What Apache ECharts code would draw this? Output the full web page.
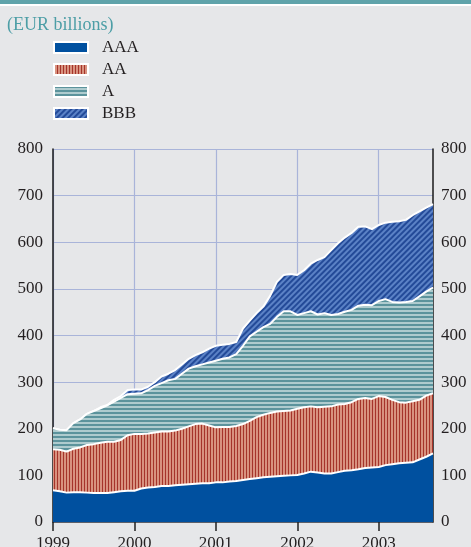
<!DOCTYPE html>
<html>
<head>
<meta charset="utf-8">
<script src="https://cdn.jsdelivr.net/npm/echarts@6/dist/echarts.min.js"></script>
<style>
html,body{margin:0;padding:0;background:#e6e7e9;}
#chart{width:471px;height:547px;}
</style>
</head>
<body>
<div id="chart"></div>
<script>
// ---- data (EUR billions), monthly Jan 1999 - Sep 2003 ----
var years = ['1999', '2000', '2001', '2002', '2003'];
var monthsPerYear = ['01','02','03','04','05','06','07','08','09','10','11','12'];
var lastMonthIndex = 9; // data ends September 2003
var seriesNames = ['AAA', 'AA', 'A', 'BBB'];
var yTicks = [0, 100, 200, 300, 400, 500, 600, 700, 800];

var aaa = [68,66,63,64,64,63,62,62,62,64, 66,67,67,72,74,75,77,77,79,80,
           81,82,83,83,85,85,87,88,90,92, 94,96,97,98,99,100,101,104,108,106,
           104,104,107,110,111,113,116,117,118,122, 124,126,127,128,134,140,147];
var aa  = [88,89,88,93,96,102,105,108,110,108, 110,119,122,117,116,117,117,117,117,120,
           124,128,128,124,118,119,117,118,120,125, 131,134,137,139,139,139,142,142,140,140,
           143,144,145,143,146,151,150,147,152,146, 138,131,129,131,128,131,129];
var a   = [45,43,46,55,60,67,71,74,78,86, 90,88,86,87,93,100,104,110,111,118,
           124,124,127,135,143,146,149,154,168,181, 183,188,191,203,214,213,201,202,204,199,
           201,196,194,198,198,200,200,201,204,210, 210,214,216,215,222,223,227];
var bbb = [0,0,0,0,0,0,0,2,1,4, 4,9,9,8,7,8,14,14,19,20,
           21,24,26,30,32,30,29,26,37,34, 40,44,60,75,78,80,86,92,102,117,
           120,139,152,159,165,169,168,163,163,164, 172,174,176,184,182,180,179];

var categories = [];
years.forEach(function (y, yi) {
  monthsPerYear.forEach(function (m, mi) {
    if (yi < years.length - 1 || mi < lastMonthIndex) categories.push(y + '-' + m);
  });
});

function isYearStart(index, value) {
  return categories[index].slice(5) === '01';
}

var serif = 'Liberation Serif';
var textColor = '#231f20';
var gridColor = '#a9b4d9';

var chart = echarts.init(document.getElementById('chart'), null, {renderer: 'canvas'});

function mk(name, data, color, decal, z) {
  return {
    name: name,
    type: 'line',
    stack: 'total',
    data: data,
    z: z,
    showSymbol: false,
    symbol: 'none',
    smooth: false,
    color: color,
    lineStyle: {color: '#ffffff', width: 2},
    itemStyle: {color: color, decal: decal},
    areaStyle: {color: color, opacity: 1},
    emphasis: {disabled: true},
    animation: false
  };
}

var option = {
  animation: false,
  backgroundColor: '#e6e7e9',
  graphic: [
    {type: 'rect', left: 0, top: 0, shape: {x: 0, y: 0, width: 471, height: 4}, style: {fill: '#5fa3aa'}},
    {type: 'rect', left: 0, top: 4, shape: {x: 0, y: 0, width: 471, height: 2}, style: {fill: '#ffffff'}}
  ],
  title: {
    text: '(EUR billions)',
    left: 7,
    top: 16,
    padding: 0,
    textStyle: {fontFamily: serif, fontSize: 18, fontWeight: 'normal', color: '#4d9ea6'}
  },
  legend: {
    orient: 'vertical',
    left: 53,
    top: 39,
    padding: 0,
    itemWidth: 34,
    itemHeight: 11,
    itemGap: 5,
    icon: 'rect',
    selectedMode: false,
    itemStyle: {borderColor: '#ffffff', borderWidth: 2},
    textStyle: {fontFamily: serif, fontSize: 17, color: textColor, padding: [0, 0, 0, 9]},
    data: seriesNames
  },
  grid: {left: 53, right: 38, top: 149, bottom: 25, containLabel: false, outerBoundsMode: 'none'},
  xAxis: {
    type: 'category',
    data: categories,
    boundaryGap: false,
    axisLine: {show: true, lineStyle: {color: '#444444', width: 1.5}},
    axisTick: {show: true, interval: isYearStart, length: 9, lineStyle: {color: '#222222', width: 1.5}},
    axisLabel: {
      interval: isYearStart,
      margin: 13,
      fontFamily: serif,
      fontSize: 17,
      color: textColor,
      formatter: function (v) { return v.slice(0, 4); }
    },
    splitLine: {show: true, interval: isYearStart, lineStyle: {color: gridColor, width: 1.2}}
  },
  yAxis: [
    {
      type: 'value', min: yTicks[0], max: yTicks[yTicks.length - 1], interval: 100,
      position: 'left',
      axisLine: {show: true, lineStyle: {color: '#1a1a1a', width: 1.5}},
      axisTick: {show: false},
      axisLabel: {fontFamily: serif, fontSize: 17, color: textColor, margin: 10},
      splitLine: {show: true, lineStyle: {color: gridColor, width: 1.2}}
    },
    {
      type: 'value', min: yTicks[0], max: yTicks[yTicks.length - 1], interval: 100,
      position: 'right',
      axisLine: {show: true, lineStyle: {color: '#1a1a1a', width: 1.5}},
      axisTick: {show: false},
      axisLabel: {fontFamily: serif, fontSize: 17, color: textColor, margin: 8},
      splitLine: {show: false}
    }
  ],
  series: [
    mk('AAA', aaa, '#00509f', null, 6),
    mk('AA', aa, '#d8927f', {symbol: 'rect', symbolSize: 1, dashArrayX: [1, 2], dashArrayY: [1, 0], color: '#a5342a'}, 5),
    mk('A', a, '#aecbce', {symbol: 'rect', symbolSize: 1, dashArrayX: [1, 0], dashArrayY: [2, 2], color: '#5b939c'}, 4),
    mk('BBB', bbb, '#5b82c6', {symbol: 'rect', symbolSize: 1, dashArrayX: [1, 0], dashArrayY: [2, 2], rotation: -Math.PI / 4, color: '#234a98'}, 3)
  ]
};
chart.setOption(option);
</script>
</body>
</html>
